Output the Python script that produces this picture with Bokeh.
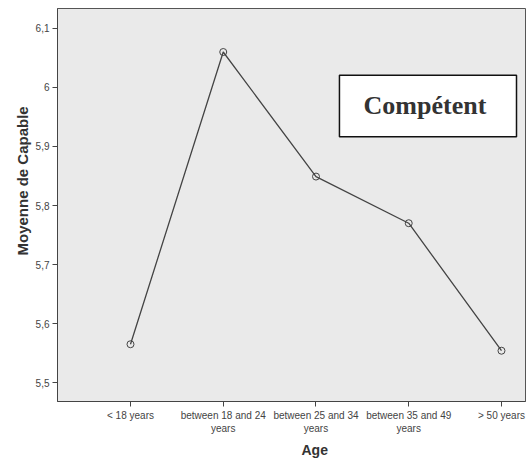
from bokeh.plotting import figure
from bokeh.models import (Range1d, FixedTicker, CustomJSTickFormatter, Label,
                          BoxAnnotation, ColumnDataSource, Title)
from bokeh.embed import file_html
from bokeh.resources import INLINE

categories = ["< 18 years", "between 18 and 24\nyears", "between 25 and 34\nyears",
              "between 35 and 49\nyears", "> 50 years"]
means = [5.565, 6.060, 5.849, 5.770, 5.554]
y_ticks = [5.5, 5.6, 5.7, 5.8, 5.9, 6.0, 6.1]

x_pos = list(range(len(categories)))
src = ColumnDataSource(dict(x=x_pos, y=means))

p = figure(width=529, height=460, output_backend="svg", toolbar_location=None,
           x_range=Range1d(-0.787, 4.259), y_range=Range1d(5.468, 6.1337),
           min_border_left=57, min_border_right=4, min_border_top=8,
           min_border_bottom=57)

p.background_fill_color = "#eaeaea"
p.border_fill_color = "white"
p.outline_line_color = "#555555"
p.outline_line_width = 1
p.xgrid.visible = False
p.ygrid.visible = False

for ax in (p.xaxis, p.yaxis):
    ax.axis_line_color = "#444444"
    ax.major_tick_line_color = "#444444"
    ax.major_tick_out = 5
    ax.major_tick_in = 0
    ax.minor_tick_line_color = None
    ax.major_label_text_font = "Liberation Sans"
    ax.major_label_text_font_size = "10px"
    ax.major_label_text_color = "#444444"
    ax.major_label_standoff = 3

p.xaxis.ticker = FixedTicker(ticks=x_pos)
p.xaxis.major_label_overrides = {i: c for i, c in enumerate(categories)}
p.yaxis.ticker = FixedTicker(ticks=y_ticks)
p.yaxis.formatter = CustomJSTickFormatter(
    code="return (Math.round(tick*10)/10).toString().replace('.', ',');")

p.line("x", "y", source=src, line_color="#444444", line_width=1.3)
p.scatter("x", "y", source=src, marker="circle", size=7, fill_color=None,
          line_color="#444444", line_width=1)

# axis titles
p.add_layout(Title(text="Age", align="left", offset=244, standoff=6,
                   text_font="Liberation Sans", text_font_size="14px",
                   text_font_style="bold", text_color="#333333"), "below")
p.add_layout(Title(text="Moyenne de Capable", align="left", offset=146, standoff=3,
                   text_font="Liberation Sans", text_font_size="15px",
                   text_font_style="bold", text_color="#333333"), "left")

# annotation box
p.add_layout(BoxAnnotation(left=2.253, right=4.162, top=6.0208, bottom=5.9163,
                           fill_color="white", fill_alpha=1.0,
                           line_color="#111111", line_width=1.5, line_alpha=1.0))
p.add_layout(Label(x=3.175, y=5.9686, text="Compétent",
                   text_font="Liberation Serif", text_font_size="26px",
                   text_font_style="bold", text_color="#333333",
                   text_align="center", text_baseline="middle"))

open("out.html", "w").write(file_html(p, INLINE))
